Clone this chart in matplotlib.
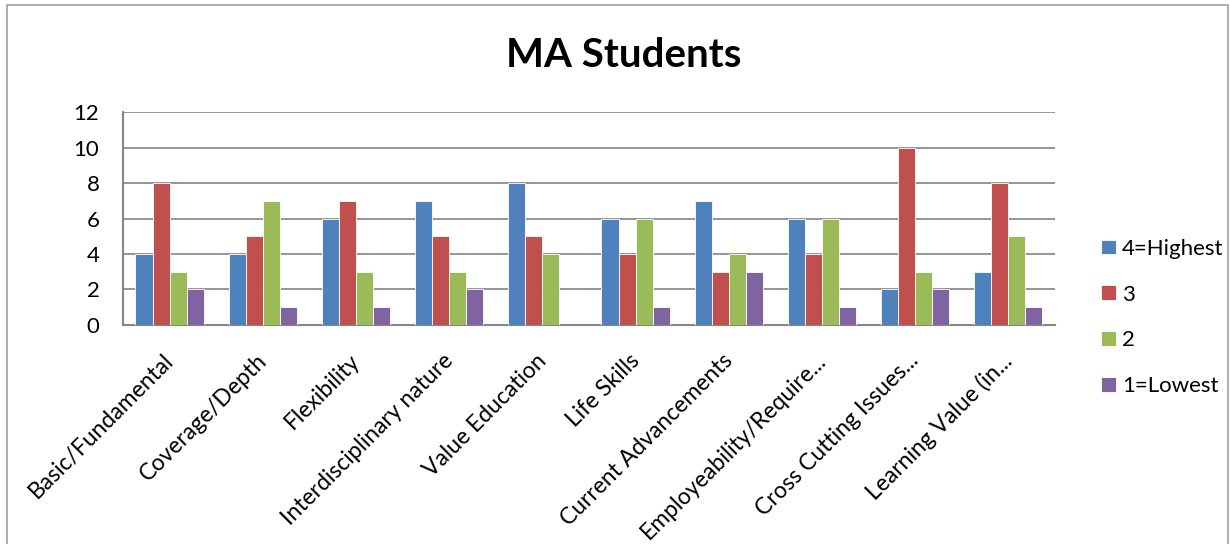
import matplotlib

matplotlib.use("Agg")

import matplotlib.pyplot as plt  # noqa: E402
import matplotlib.transforms as mtransforms  # noqa: E402
import numpy as np  # noqa: E402
from matplotlib.patches import Rectangle  # noqa: E402

plt.rcParams["font.family"] = ["Lato", "DejaVu Sans"]

categories = [
    "Basic/Fundamental",
    "Coverage/Depth",
    "Flexibility",
    "Interdisciplinary nature",
    "Value Education",
    "Life Skills",
    "Current Advancements",
    "Employeability/Require...",
    "Cross Cutting Issues...",
    "Learning Value (in...",
]
series_names = ["4=Highest", "3", "2", "1=Lowest"]
highest = [4, 4, 6, 7, 8, 6, 7, 6, 2, 3]
three = [8, 5, 7, 5, 5, 4, 3, 4, 10, 8]
two = [3, 7, 3, 3, 4, 6, 4, 6, 3, 5]
lowest = [2, 1, 1, 2, 0, 1, 3, 1, 2, 1]
colors = ["#4F81BD", "#C0504D", "#9BBB59", "#8064A2"]

fig = plt.figure(figsize=(12.3, 5.44), dpi=100)
ax = fig.add_axes([0.1, 0.4026, 0.7577, 0.3914])

# outer chart frame
fig.patches.append(Rectangle((7 / 1230, -0.05), 1221 / 1230, 1.04,
                             transform=fig.transFigure, fill=False,
                             edgecolor="#A0A0A0", linewidth=1.2))

x = np.arange(len(categories))
width = 0.183
for i, (vals, name) in enumerate(zip([highest, three, two, lowest], series_names)):
    ax.bar(x + (i - 1.5) * width, vals, width, color=colors[i], label=name,
           edgecolor="white", linewidth=0.6, zorder=3)

ax.set_xlim(-0.5, len(categories) - 0.5)
ax.set_ylim(0, 12)
ax.set_yticks(range(0, 13, 2))
ax.yaxis.grid(True, color="#8C8C8C", linewidth=1.3, zorder=0)
ax.tick_params(axis="y", length=0, pad=17, labelsize=16)
ax.tick_params(axis="x", length=0, pad=18, labelsize=16.5)
ax.set_xticks(x)
ax.set_xticklabels(categories, rotation=45, ha="right", va="top",
                   rotation_mode="anchor")

# small nudge left so label ends line up with the group centres
shift = mtransforms.ScaledTranslation(-7 / 100, 0, fig.dpi_scale_trans)
for lbl in ax.get_xticklabels():
    lbl.set_transform(lbl.get_transform() + shift)

for side in ["top", "right"]:
    ax.spines[side].set_visible(False)
for side in ["left", "bottom"]:
    ax.spines[side].set_color("#868686")
    ax.spines[side].set_linewidth(1.5)

fig.text(0.507, 0.898, "MA Students", ha="center", va="center",
         fontsize=29, fontweight="bold")

ax.legend(loc="center left", bbox_to_anchor=(1.028, 0.035), frameon=False,
          fontsize=16, handlelength=0.65, handleheight=0.65, handletextpad=0.3,
          labelspacing=1.16)

fig.savefig("out.png", dpi=100)
plt.close(fig)
